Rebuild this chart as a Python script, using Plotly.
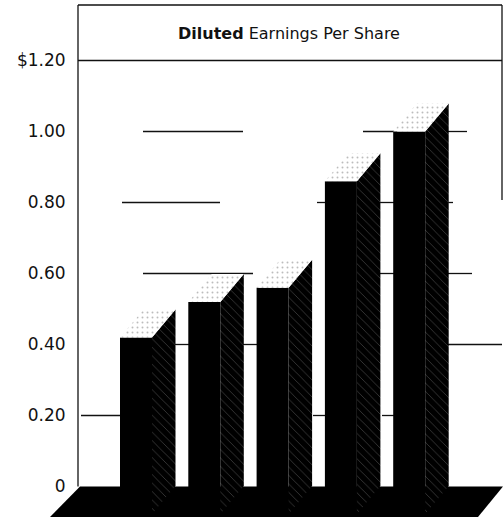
import plotly.graph_objects as go

# Diluted earnings per share, one value per year (left to right)
eps = [0.42, 0.52, 0.56, 0.86, 1.00]
positions = list(range(len(eps)))

# Value axis ticks
tick_vals = [0, 0.2, 0.4, 0.6, 0.8, 1.0, 1.2]
tick_text = ["0", "0.20", "0.40", "0.60", "0.80", "1.00", "$1.20"]

chart_title = "<b>Diluted</b> Earnings Per Share"

# ---- canvas geometry ----
FIG_W, FIG_H = 503, 520
ZERO_PX = 486.5          # pixel row of the value 0
PX_PER_UNIT = 355.0      # pixels per 1.00 of value
X0_PX = 136.0            # pixel column of the first bar centre
STEP_PX = 68.3           # pixels between bar centres
AXIS_PX = 78             # pixel column of the value axis


def xu(px):
    """pixel column -> x-axis units"""
    return (px - X0_PX) / STEP_PX


def yu(py):
    """pixel row -> value units"""
    return (ZERO_PX - py) / PX_PER_UNIT


BAR_W = 32 / STEP_PX           # front face width
DEPTH_X = 23.5 / STEP_PX       # 3-D depth offset, horizontal
DEPTH_Y = 28 / PX_PER_UNIT     # 3-D depth offset, vertical
BASE = yu(514)                 # bars stand on the front part of the floor
FLOOR_FRONT = yu(517)

# visible pieces of the back-wall rules (pixel columns)
grid_segments = {
    1.2: [(78, 502)],
    1.0: [(143, 243), (363, 397), (448, 467)],
    0.8: [(122, 220), (317, 326), (380, 394), (448, 453)],
    0.6: [(143, 253), (380, 394), (448, 472)],
    0.4: [(175, 189), (243, 257), (448, 502)],
    0.2: [(81, 120), (313, 326), (382, 395)],
}

INK = "#111111"
shapes = []
for val, segs in grid_segments.items():
    for a, b in segs:
        shapes.append(dict(type="line", xref="x", yref="y",
                           x0=xu(a), x1=xu(b), y0=val, y1=val,
                           line=dict(color=INK, width=1.3), layer="below"))

# outer frame: left side, top, and upper part of right side
top_val = yu(5)
shapes += [
    dict(type="line", xref="x", yref="y", x0=xu(AXIS_PX), x1=xu(AXIS_PX),
         y0=0, y1=top_val, line=dict(color=INK, width=1.3), layer="below"),
    dict(type="line", xref="x", yref="y", x0=xu(AXIS_PX), x1=xu(502),
         y0=top_val, y1=top_val, line=dict(color=INK, width=1.3), layer="below"),
    dict(type="line", xref="x", yref="y", x0=xu(502), x1=xu(502),
         y0=top_val, y1=yu(200), line=dict(color=INK, width=1.3), layer="below"),
]

# black floor slab
shapes.append(dict(
    type="path", xref="x", yref="y",
    path=(f"M {xu(80)},0 L {xu(503)},0 L {xu(478)},{FLOOR_FRONT} "
          f"L {xu(50)},{FLOOR_FRONT} Z"),
    fillcolor="black", line=dict(width=0), layer="below"))

fig = go.Figure()

# front faces of the bars
fig.add_trace(go.Bar(
    x=positions, y=[v - BASE for v in eps], base=BASE, width=BAR_W,
    marker=dict(color="black", line=dict(width=0)),
    hoverinfo="skip", showlegend=False))

# shaded side faces and stippled top faces
for x, v in zip(positions, eps):
    r = x + BAR_W / 2
    l = x - BAR_W / 2
    fig.add_trace(go.Scatter(
        x=[r, r + DEPTH_X, r + DEPTH_X, r, r],
        y=[BASE, BASE + DEPTH_Y, v + DEPTH_Y, v, BASE],
        mode="lines", fill="toself", fillcolor="black",
        fillpattern=dict(shape="\\", fgcolor="#8a8a8a", bgcolor="black",
                         size=6, solidity=0.12),
        line=dict(width=0), hoverinfo="skip", showlegend=False))
    fig.add_trace(go.Scatter(
        x=[l, r, r + DEPTH_X, l + DEPTH_X, l],
        y=[v, v, v + DEPTH_Y, v + DEPTH_Y, v],
        mode="lines", fill="toself", fillcolor="white",
        fillpattern=dict(shape=".", fgcolor="#7a7a7a", bgcolor="white",
                         size=5, solidity=0.12),
        line=dict(width=0), hoverinfo="skip", showlegend=False))

fig.add_annotation(
    text=chart_title, xref="paper", yref="paper",
    x=289 / FIG_W, y=1 - 33 / FIG_H, xanchor="center", yanchor="middle",
    showarrow=False, font=dict(family="DejaVu Sans", size=16, color=INK))

fig.update_layout(
    width=FIG_W, height=FIG_H,
    margin=dict(l=0, r=0, t=0, b=0, pad=0),
    paper_bgcolor="white", plot_bgcolor="white",
    showlegend=False, hovermode=False,
    shapes=shapes,
    xaxis=dict(range=[xu(0), xu(FIG_W)], visible=False, fixedrange=True),
    yaxis=dict(range=[yu(FIG_H), yu(0)], anchor="free",
               position=AXIS_PX / FIG_W,
               tickvals=tick_vals, ticktext=tick_text,
               ticks="outside", ticklen=9, tickcolor="rgba(0,0,0,0)",
               tickfont=dict(family="DejaVu Sans", size=17, color=INK),
               showgrid=False, zeroline=False, showline=False,
               fixedrange=True),
)

fig.write_html("out.html", config={"displayModeBar": False})
